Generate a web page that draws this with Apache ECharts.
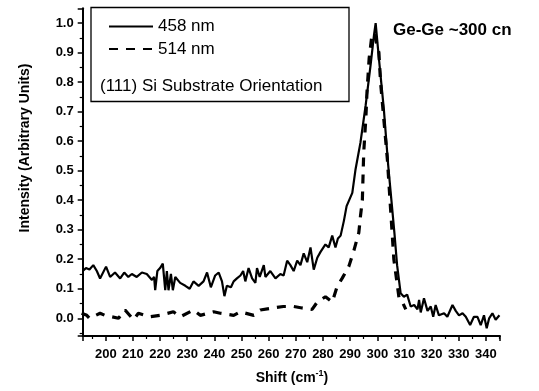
<!DOCTYPE html>
<html>
<head>
<meta charset="utf-8">
<script src="https://cdn.jsdelivr.net/npm/echarts@6/dist/echarts.min.js"></script>
<style>
  html, body { margin: 0; padding: 0; background: #fff; }
  #chart { width: 539px; height: 391px; }
</style>
</head>
<body>
<div id="chart"></div>
<script>
// Raman spectra of Ge-Ge mode, two excitation wavelengths
const shift458 = [191.5, 192.7, 194, 195.4, 196.7, 197.9, 200.1, 201.6, 203.4, 205.3, 206.8, 208.3, 209.6, 211.4, 213.3, 215.1, 217, 217.8, 218.2, 219, 220, 221, 221.9, 222.5, 223.1, 224, 224.7, 225.6, 227.4, 229.3, 230.9, 232.3, 234.2, 236, 237.3, 238.7, 240.3, 241.6, 242.8, 243.7, 244.6, 246.1, 247.1, 248.3, 249.6, 250.6, 251.4, 252.6, 253.9, 255.1, 255.7, 256.7, 258.2, 258.8, 260.6, 262.5, 264.3, 265.5, 266.8, 268, 269.2, 270.5, 271.7, 272.9, 274.2, 275.4, 276.6, 277.9, 279.1, 280.9, 282.1, 283.4, 284.6, 285.5, 286.5, 287.7, 288.7, 290.8, 292, 293.8, 295.7, 297.5, 298.8, 299.4, 300.6, 302.4, 304, 305.2, 306.3, 307.3, 308.6, 309.8, 311, 312.3, 313.6, 314.8, 315.4, 316, 317.2, 318.5, 319.7, 320.6, 321.5, 322.7, 324.6, 325.8, 327.7, 328.9, 330.1, 331.4, 332.6, 334.2, 335.6, 336.9, 338.1, 339.3, 340.3, 341.2, 342.4, 343.6, 345];
const int458 = [0.16, 0.17, 0.165, 0.18, 0.16, 0.135, 0.175, 0.14, 0.155, 0.135, 0.155, 0.14, 0.15, 0.14, 0.155, 0.15, 0.13, 0.14, 0.095, 0.16, 0.17, 0.185, 0.095, 0.16, 0.095, 0.15, 0.095, 0.14, 0.12, 0.11, 0.10, 0.125, 0.11, 0.125, 0.155, 0.105, 0.145, 0.155, 0.125, 0.075, 0.11, 0.105, 0.125, 0.135, 0.145, 0.16, 0.125, 0.17, 0.135, 0.12, 0.17, 0.14, 0.18, 0.14, 0.16, 0.135, 0.15, 0.145, 0.195, 0.18, 0.16, 0.195, 0.18, 0.22, 0.19, 0.24, 0.165, 0.205, 0.225, 0.25, 0.24, 0.28, 0.24, 0.27, 0.28, 0.33, 0.38, 0.425, 0.505, 0.595, 0.72, 0.855, 0.96, 1.0, 0.88, 0.71, 0.52, 0.40, 0.29, 0.18, 0.085, 0.073, 0.08, 0.04, 0.045, 0.03, 0.062, 0.02, 0.068, 0.025, 0.04, 0.005, 0.045, 0.01, 0.017, 0.005, 0.045, 0.025, 0.01, 0.017, 0.005, -0.023, 0.005, 0.005, -0.023, 0.01, -0.034, 0.0, 0.017, -0.005, 0.01];

const shift514 = [191.1, 193, 194, 197.9, 199.7, 204.7, 207.1, 210.2, 212, 216.3, 220, 224.9, 227.4, 232.3, 234.8, 239.7, 242.2, 247.1, 249.6, 254.5, 256.9, 261.8, 265.4, 269.2, 272.3, 276, 277.9, 280.9, 283.4, 285.2, 287.1, 289.5, 291.4, 293.2, 293.8, 294.5, 295, 295.8, 296.2, 297, 298.1, 299, 300.6, 301.2, 302.4, 303.7, 304.9, 306.1, 308, 309.5, 310.5];
const int514 = [0.017, 0.01, 0.0, 0.017, 0.01, 0.0, 0.028, -0.005, 0.017, 0.005, 0.01, 0.022, 0.005, 0.028, 0.01, 0.022, 0.017, 0.01, 0.022, 0.01, 0.028, 0.035, 0.04, 0.04, 0.035, 0.03, 0.055, 0.073, 0.055, 0.107, 0.136, 0.175, 0.23, 0.29, 0.345, 0.40, 0.56, 0.68, 0.765, 0.88, 0.965, 0.96, 0.90, 0.80, 0.675, 0.54, 0.37, 0.2, 0.07, 0.05, 0.03];

const seriesNames = ['458 nm', '514 nm'];
const substrateNote = '(111) Si Substrate Orientation';
const peakNote = 'Ge-Ge ~300 cn';
const yTitle = 'Intensity (Arbitrary Units)';

const xRange = [191.5, 345.2];
const yRange = [-0.06, 1.05];

const FONT = '"Liberation Sans", Arial, Helvetica, sans-serif';
const pairs = (xs, ys) => xs.map((x, i) => [x, ys[i]]);

const chart = echarts.init(document.getElementById('chart'), null, { renderer: 'canvas' });

const axisCommon = {
  axisLine: { show: true, onZero: false, lineStyle: { color: '#000', width: 2 } },
  axisTick: { show: true, inside: false, length: 5, lineStyle: { color: '#000', width: 1.5 } },
  minorTick: { show: true, splitNumber: 2, length: 3, lineStyle: { color: '#000', width: 1.2 } },
  splitLine: { show: false },
  minorSplitLine: { show: false }
};

chart.setOption({
  backgroundColor: '#fff',
  animation: false,
  grid: { left: 82.7, right: 39, top: 8.3, bottom: 55 },
  xAxis: Object.assign({
    type: 'value',
    min: xRange[0],
    max: xRange[1],
    splitNumber: 15,
    axisLabel: {
      showMinLabel: false, showMaxLabel: false,
      margin: 12, color: '#000', fontSize: 13, fontWeight: 'bold', fontFamily: FONT,
      formatter: v => String(Math.round(v))
    }
  }, axisCommon),
  yAxis: Object.assign({
    type: 'value',
    min: yRange[0],
    max: yRange[1],
    splitNumber: 10,
    axisLabel: {
      showMinLabel: false, showMaxLabel: false,
      margin: 9, color: '#000', fontSize: 13, fontWeight: 'bold', fontFamily: FONT,
      formatter: v => v.toFixed(1)
    }
  }, axisCommon),
  legend: {
    data: seriesNames,
    orient: 'vertical',
    left: 108,
    top: 18,
    padding: 0,
    itemWidth: 44,
    itemHeight: 16,
    itemGap: 5.5,
    itemStyle: { opacity: 0 },
    textStyle: { color: '#000', fontSize: 17, fontFamily: FONT }
  },
  graphic: [
    {
      type: 'rect', z: 10,
      shape: { x: 91, y: 7.5, width: 258, height: 94 },
      style: { fill: 'none', stroke: '#000', lineWidth: 1.3 }
    },
    {
      type: 'text', z: 10, x: 100, y: 86,
      style: { text: substrateNote, fill: '#000', font: '17px ' + FONT, textVerticalAlign: 'middle' }
    },
    {
      type: 'text', z: 10, x: 393, y: 30,
      style: { text: peakNote, fill: '#000', font: 'bold 17px ' + FONT, textVerticalAlign: 'middle' }
    },
    {
      type: 'text', z: 10, x: 25, y: 148, rotation: Math.PI / 2,
      style: { text: yTitle, fill: '#000', font: 'bold 14px ' + FONT, textAlign: 'center', textVerticalAlign: 'middle' }
    },
    {
      type: 'text', z: 10, x: 292, y: 378,
      style: {
        text: '{a|Shift (cm}{s|-1}{a|)}',
        align: 'center', verticalAlign: 'middle',
        rich: {
          a: { fontSize: 14, fontWeight: 'bold', fontFamily: FONT, fill: '#000', color: '#000', lineHeight: 18 },
          s: { fontSize: 9, fontWeight: 'bold', fontFamily: FONT, fill: '#000', color: '#000', verticalAlign: 'top', padding: [0, 0, 8, 0] }
        }
      }
    }
  ],
  series: [
    {
      name: seriesNames[0],
      type: 'line',
      data: pairs(shift458, int458),
      showSymbol: false,
      symbol: 'none',
      lineStyle: { color: '#000', width: 2.2, type: 'solid' },
      itemStyle: { color: '#000' },
      z: 3
    },
    {
      name: seriesNames[1],
      type: 'line',
      data: pairs(shift514, int514),
      showSymbol: false,
      symbol: 'none',
      lineStyle: { color: '#000', width: 3.2, type: [9, 8] },
      itemStyle: { color: '#000' },
      z: 2
    }
  ]
});
</script>
</body>
</html>
